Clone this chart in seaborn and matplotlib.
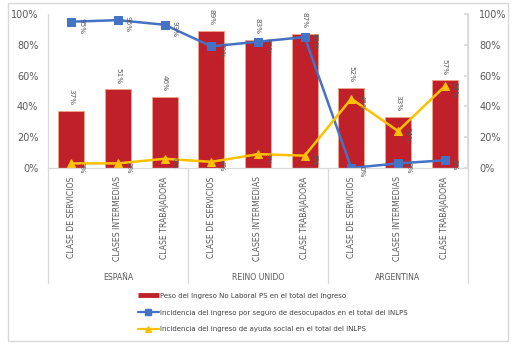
import numpy as np
import pandas as pd
import matplotlib
matplotlib.use("Agg")
import matplotlib.pyplot as plt
from matplotlib.patches import Rectangle
from matplotlib.lines import Line2D
import seaborn as sns

countries = ["ESPAÑA", "REINO UNIDO", "ARGENTINA"]
classes = ["CLASE DE SERVICIOS", "CLASES INTERMEDIAS", "CLASE TRABAJADORA"]
peso_inlps = [37, 51, 46, 89, 83, 87, 52, 33, 57]
seguro_desocup = [95, 96, 93, 79, 82, 85, 0, 3, 5]
ayuda_social = [3, 3, 6, 4, 9, 8, 45, 24, 53]
yticks = [0, 20, 40, 60, 80, 100]
ytick_labels = ["0%", "20%", "40%", "60%", "80%", "100%"]
legend_labels = [
    "Peso del Ingreso No Laboral PS en el total del ingreso",
    "Incidencia del ingreso por seguro de desocupados en el total del INLPS",
    "Incidencia del ingreso de ayuda social en el total del INLPS",
]

sns.set_theme(style="white")
plt.rcParams["font.family"] = ["DejaVu Sans"]

W, H = 513, 347
fig = plt.figure(figsize=(W / 100, H / 100), dpi=100)
ax = fig.add_axes([48 / W, 1 - 168 / H, 420 / W, 154 / H])

keys = [f"{c}|{k}" for c in countries for k in classes]
df = pd.DataFrame({
    "key": keys,
    "pos": np.arange(len(keys)),
    "peso": np.array(peso_inlps) / 100,
    "seguro": np.array(seguro_desocup) / 100,
    "ayuda": np.array(ayuda_social) / 100,
})

red, blue, yellow = "#C0202A", "#4472C4", "#FFC000"
gray_txt = "#595959"
axis_gray = "#D9D9D9"

sns.barplot(data=df, x="key", y="peso", order=keys, color=red, saturation=1,
            width=0.56, edgecolor="#EFA58A", linewidth=0.6, ax=ax)
sns.lineplot(data=df, x="pos", y="seguro", color=blue, marker="s", markersize=5.5,
             markeredgecolor=blue, linewidth=1.8, ax=ax)
sns.lineplot(data=df, x="pos", y="ayuda", color=yellow, marker="^", markersize=6,
             markeredgecolor=yellow, linewidth=1.8, ax=ax)

ax.set_xlim(-0.5, len(keys) - 0.5)
ax.set_ylim(0, 1)
ax.set_xlabel("")
ax.set_ylabel("")
ax.set_yticks(np.array(yticks) / 100)
ax.set_yticklabels(ytick_labels, fontsize=7, color=gray_txt)
ax.set_xticks(np.arange(len(keys)))
ax.set_xticklabels([k.split("|")[1] for k in keys], rotation=90, fontsize=5.6,
                   color=gray_txt, va="top", ha="center")
ax.tick_params(axis="x", length=0, pad=6)
ax.tick_params(axis="y", length=0, pad=7)
for s in ["top"]:
    ax.spines[s].set_visible(False)
for s in ["left", "right", "bottom"]:
    ax.spines[s].set_color(axis_gray)
    ax.spines[s].set_linewidth(0.9)

ax2 = ax.twinx()
ax2.set_ylim(0, 1)
ax2.set_yticks(np.array(yticks) / 100)
ax2.set_yticklabels(ytick_labels, fontsize=7, color=gray_txt)
ax2.tick_params(axis="y", length=3, direction="in", color=axis_gray, pad=8)
for s in ["top", "left", "bottom"]:
    ax2.spines[s].set_visible(False)
ax2.spines["right"].set_color(axis_gray)
ax2.grid(False)

# data labels
for i, v in enumerate(peso_inlps):
    ax.annotate(f"{v}%", (i, v / 100), xytext=(0, 4), textcoords="offset points",
                rotation=270, ha="center", va="bottom", fontsize=5.2, color=gray_txt)
for i, v in enumerate(seguro_desocup):
    ax.annotate(f"{v}%", (i, v / 100), xytext=(5, -3), textcoords="offset points",
                rotation=270, ha="left", va="center", fontsize=5.2, color=gray_txt)
for i, v in enumerate(ayuda_social):
    ax.annotate(f"{v}%", (i, v / 100), xytext=(5, -3), textcoords="offset points",
                rotation=270, ha="left", va="center", fontsize=5.2, color=gray_txt)

# group separators and labels
sep_bottom = -(283 - 168) / 154
for b in [-0.5, 2.5, 5.5, 8.5]:
    ax.plot([b, b], [0, sep_bottom], transform=ax.get_xaxis_transform(),
            color=axis_gray, linewidth=0.9, clip_on=False)
for g, c in enumerate(countries):
    ax.text(g * 3 + 1, -(277 - 168) / 154, c, transform=ax.get_xaxis_transform(),
            ha="center", va="center", fontsize=5.6, color=gray_txt)

# legend
handles = [
    Line2D([0], [0], color=red, linewidth=3.5, solid_capstyle="butt"),
    Line2D([0], [0], color=blue, linewidth=1.6, marker="s", markersize=4),
    Line2D([0], [0], color=yellow, linewidth=1.6, marker="^", markersize=4),
]
fig.legend(handles, legend_labels, loc="upper left",
           bbox_to_anchor=(135 / W, 1 - 290 / H), frameon=False, fontsize=5,
           handlelength=3.0, handletextpad=0.2, labelspacing=1.55,
           labelcolor="#404040", borderaxespad=0)

# outer border
fig.patches.append(Rectangle((8 / W, 1 - 341 / H), 500 / W, 338 / H,
                             transform=fig.transFigure, fill=False,
                             edgecolor=axis_gray, linewidth=1.0))

fig.savefig("out.png", dpi=100)
